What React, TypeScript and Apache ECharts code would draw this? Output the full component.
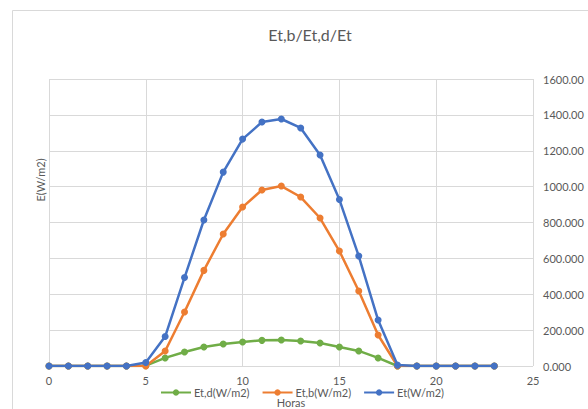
import React, { useEffect, useRef } from "react";
import * as echarts from "echarts";

// Hourly irradiance on the surface (W/m2)
const hours: number[] = [0, 1, 2, 3, 4, 5, 6, 7, 8, 9, 10, 11, 12, 13, 14, 15, 16, 17, 18, 19, 20, 21, 22, 23];
const diffuse: number[] = [0, 0, 0, 0, 0, 2, 45, 78, 106, 123, 134, 143, 145, 139, 128, 106, 84, 45, 0, 0, 0, 0, 0, 0];
const beam: number[] = [0, 0, 0, 0, 0, 0, 84, 301, 533, 736, 886, 981, 1003, 942, 825, 641, 418, 173, 0, 0, 0, 0, 0, 0];
const total: number[] = [0, 0, 0, 0, 0, 20, 164, 493, 814, 1081, 1265, 1360, 1377, 1327, 1176, 928, 613, 256, 5, 0, 0, 0, 0, 0];

const seriesNames: string[] = ["Et,d(W/m2)", "Et,b(W/m2)", "Et(W/m2)"];
const seriesColors: string[] = ["#70AD47", "#ED7D31", "#4472C4"];
const seriesData: number[][] = [diffuse, beam, total];

const FONT = "Lato, 'Open Sans', sans-serif";
const TEXT = "#595959";

// Seven characters per label, as a spreadsheet's General format shows them
const fmtTick = (v: number) => (v >= 1000 ? v.toFixed(2) : v.toFixed(3));

export default function App() {
  const ref = useRef<HTMLDivElement>(null);

  useEffect(() => {
    if (!ref.current) return;
    const chart = echarts.init(ref.current, undefined, { renderer: "svg" });
    chart.setOption({
      animation: false,
      backgroundColor: "#ffffff",
      textStyle: { fontFamily: FONT },
      title: {
        text: "Et,b/Et,d/Et",
        left: 305,
        textAlign: "center",
        top: 21,
        textStyle: { fontFamily: FONT, fontSize: 16, fontWeight: "normal", color: TEXT },
      },
      graphic: [
        {
          type: "rect",
          left: 10,
          top: 8,
          shape: { width: 590, height: 410 },
          style: { fill: "none", stroke: "#d9d9d9", lineWidth: 1 },
          silent: true,
          z: -1,
        },
        {
          type: "text",
          x: 40,
          y: 180,
          rotation: Math.PI / 2,
          style: {
            text: "E(W/m2)",
            fill: TEXT,
            fontSize: 11,
            fontFamily: FONT,
            align: "center",
            verticalAlign: "middle",
          },
        },
      ],
      legend: {
        left: 155,
        top: 382,
        itemWidth: 30,
        itemHeight: 8,
        itemGap: 12,
        textStyle: { fontFamily: FONT, fontSize: 11, color: TEXT, padding: [0, 0, 0, -2] },
        data: seriesNames,
      },
      grid: { left: 49, right: 55, top: 79, bottom: 43, outerBoundsMode: "none", containLabel: false },
      xAxis: {
        type: "value",
        min: 0,
        max: 25,
        interval: 5,
        name: "Horas",
        nameLocation: "middle",
        nameGap: 31,
        nameTextStyle: { fontFamily: FONT, fontSize: 11, color: TEXT },
        axisLine: { show: false },
        axisTick: { show: false },
        axisLabel: { fontFamily: FONT, fontSize: 11, color: TEXT, margin: 9 },
        splitLine: { show: true, lineStyle: { color: "#d9d9d9", width: 1 } },
      },
      yAxis: {
        type: "value",
        position: "right",
        min: 0,
        max: 1600,
        interval: 200,
        axisLine: { show: false },
        axisTick: { show: false },
        axisLabel: {
          fontFamily: FONT,
          fontSize: 11,
          color: TEXT,
          margin: 10,
          formatter: fmtTick,
        },
        splitLine: { show: true, lineStyle: { color: "#d9d9d9", width: 1 } },
      },
      series: seriesNames.map((name, i) => ({
        name,
        type: "line",
        data: hours.map((h, k) => [h, seriesData[i][k]]),
        symbol: "circle",
        symbolSize: 7,
        lineStyle: { width: 2.5, color: seriesColors[i] },
        itemStyle: { color: seriesColors[i] },
        z: 2 + i,
      })),
    });
    return () => chart.dispose();
  }, []);

  return (
    <div
      ref={ref}
      style={{ position: "absolute", left: 0, top: 0, width: 588, height: 409, overflow: "hidden" }}
    />
  );
}
